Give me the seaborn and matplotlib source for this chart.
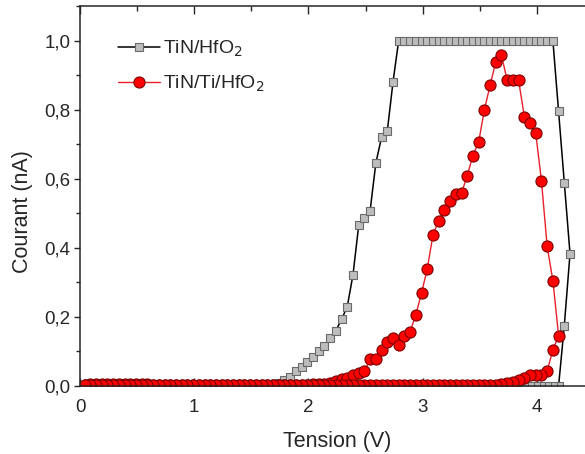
import matplotlib
matplotlib.use("Agg")
import matplotlib.pyplot as plt
import matplotlib.ticker as mticker
import numpy as np
import seaborn as sns

# sweep grid (V): first point 0.04 V, step 0.05 V
V_START, V_STEP = 0.04, 0.05

# TiN/HfO2 current (nA), up-sweep 0.04 -> 4.29 V
tin_up = [
    0.002, 0.002, 0.002, 0.002, 0.002, 0.002, 0.002, 0.002, 0.002, 0.002,
    0.002, 0.002, 0.002, 0.002, 0.002, 0.002, 0.002, 0.002, 0.002, 0.002,
    0.002, 0.002, 0.002, 0.002, 0.002, 0.002, 0.002, 0.002, 0.002, 0.002,
    0.002, 0.002, 0.003, 0.006, 0.010, 0.017, 0.027, 0.043, 0.056, 0.070,
    0.085, 0.100, 0.117, 0.140, 0.160, 0.193, 0.230, 0.322, 0.465, 0.485,
    0.508, 0.645, 0.720, 0.737, 0.879, 1.000, 1.000, 1.000, 1.000, 1.000,
    1.000, 1.000, 1.000, 1.000, 1.000, 1.000, 1.000, 1.000, 1.000, 1.000,
    1.000, 1.000, 1.000, 1.000, 1.000, 1.000, 1.000, 1.000, 1.000, 1.000,
    1.000, 1.000, 1.000, 0.795, 0.589, 0.383,
]
# TiN/HfO2 current (nA), down-sweep 4.24 -> 0.04 V
tin_down = [
    0.175, 0.000, 0.000, 0.000, 0.000, 0.000, 0.000, 0.000, 0.000, 0.000,
    0.000, 0.000, 0.000, 0.000, 0.000, 0.000, 0.000, 0.000, 0.000, 0.000,
    0.000, 0.000, 0.000, 0.000, 0.000, 0.000, 0.000, 0.000, 0.000, 0.000,
    0.000, 0.000, 0.000, 0.000, 0.000, 0.000, 0.000, 0.000, 0.000, 0.000,
    0.000, 0.000, 0.000, 0.000, 0.000, 0.000, 0.000, 0.000, 0.000, 0.000,
    0.000, 0.000, 0.000, 0.000, 0.000, 0.000, 0.000, 0.000, 0.000, 0.000,
    0.000, 0.000, 0.000, 0.000, 0.000, 0.000, 0.000, 0.000, 0.000, 0.000,
    0.000, 0.000, 0.000, 0.000, 0.000, 0.000, 0.000, 0.000, 0.000, 0.000,
    0.000, 0.000, 0.000, 0.000, 0.000,
]

# TiN/Ti/HfO2 current (nA), up-sweep 0.04 -> 4.19 V
ti_up = [
    0.004, 0.005, 0.006, 0.006, 0.006, 0.006, 0.006, 0.006, 0.006, 0.006,
    0.005, 0.005, 0.004, 0.004, 0.004, 0.004, 0.004, 0.004, 0.004, 0.004,
    0.004, 0.004, 0.004, 0.004, 0.004, 0.004, 0.004, 0.004, 0.004, 0.004,
    0.004, 0.004, 0.004, 0.004, 0.004, 0.004, 0.004, 0.004, 0.004, 0.004,
    0.005, 0.006, 0.007, 0.010, 0.015, 0.020, 0.024, 0.031, 0.037, 0.042,
    0.078, 0.078, 0.104, 0.126, 0.139, 0.118, 0.145, 0.157, 0.206, 0.269,
    0.339, 0.437, 0.479, 0.510, 0.536, 0.555, 0.558, 0.609, 0.667, 0.706,
    0.799, 0.870, 0.938, 0.957, 0.885, 0.885, 0.885, 0.780, 0.760, 0.732,
    0.594, 0.404, 0.305, 0.146,
]
# TiN/Ti/HfO2 current (nA), down-sweep 4.14 -> 0.04 V
ti_down = [
    0.104, 0.044, 0.032, 0.031, 0.032, 0.023, 0.017, 0.012, 0.008, 0.005,
    0.003, 0.003, 0.003, 0.003, 0.003, 0.003, 0.003, 0.003, 0.003, 0.003,
    0.003, 0.003, 0.003, 0.003, 0.003, 0.003, 0.003, 0.003, 0.003, 0.003,
    0.003, 0.003, 0.003, 0.003, 0.003, 0.003, 0.003, 0.003, 0.003, 0.003,
    0.003, 0.003, 0.003, 0.003, 0.003, 0.003, 0.003, 0.003, 0.003, 0.003,
    0.003, 0.003, 0.003, 0.003, 0.003, 0.003, 0.003, 0.003, 0.003, 0.003,
    0.003, 0.003, 0.003, 0.003, 0.003, 0.003, 0.003, 0.003, 0.003, 0.003,
    0.003, 0.003, 0.003, 0.003, 0.003, 0.003, 0.003, 0.003, 0.003, 0.003,
    0.003, 0.003, 0.003,
]

labels = ["TiN/HfO$_2$", "TiN/Ti/HfO$_2$"]


def sweep(up, down):
    n = len(up)
    v_up = np.round(V_START + V_STEP * np.arange(n), 2)
    v_down = v_up[::-1][1:1 + len(down)]
    return np.concatenate([v_up, v_down]), np.array(up + down)


sns.set_style("ticks")
plt.rcParams["font.family"] = ["Liberation Sans", "DejaVu Sans"]

fig = plt.figure(figsize=(5.85, 4.54), dpi=100)
# axes runs past the right edge of the picture (cropped like the original)
ax = fig.add_axes([80 / 585, 68 / 454, 514 / 585, 380 / 454])

v1, i1 = sweep(tin_up, tin_down)
v2, i2 = sweep(ti_up, ti_down)

sns.lineplot(x=v1, y=i1, sort=False, estimator=None, ax=ax,
             color="black", linewidth=1.1, marker="s", markersize=6,
             markerfacecolor="#BDBDBD", markeredgecolor="#6A6A6A",
             markeredgewidth=0.8, label=labels[0])
sns.lineplot(x=v2, y=i2, sort=False, estimator=None, ax=ax,
             color="#E8202A", linewidth=1.0, marker="o", markersize=8,
             markerfacecolor="#FF0000", markeredgecolor="#7A0000",
             markeredgewidth=0.8, label=labels[1])

ax.set_xlim(0, 4.5)
ax.set_ylim(0, 1.1)
ax.xaxis.set_major_locator(mticker.MultipleLocator(1))
ax.xaxis.set_minor_locator(mticker.MultipleLocator(0.5))
ax.yaxis.set_major_locator(mticker.MultipleLocator(0.2))
ax.yaxis.set_minor_locator(mticker.MultipleLocator(0.1))
ax.xaxis.set_major_formatter(mticker.FuncFormatter(lambda v, p: f"{v:.0f}"))
ax.yaxis.set_major_formatter(
    mticker.FuncFormatter(lambda v, p: f"{v:.1f}".replace(".", ",")))

ax.tick_params(axis="x", which="both", direction="in", top=True,
               labelsize=13.5, pad=9)
ax.tick_params(axis="x", which="major", length=6, width=1)
ax.tick_params(axis="x", which="minor", length=3.5, width=1)
ax.tick_params(axis="y", which="both", direction="out", right=False,
               labelsize=13.5, pad=3)
ax.tick_params(axis="y", which="major", length=4, width=1)
ax.tick_params(axis="y", which="minor", length=3, width=1)
for s in ["left", "bottom", "top"]:
    ax.spines[s].set_linewidth(1.1)
ax.spines["right"].set_visible(False)

ax.set_xlabel("Tension (V)", fontsize=15.5, labelpad=11)
ax.set_ylabel("Courant (nA)", fontsize=15.5)
ax.yaxis.set_label_coords(-0.091, 0.46)

ax.legend(loc="upper left", bbox_to_anchor=(0.059, 0.935), frameon=False,
          fontsize=14, handlelength=2.15, handletextpad=0.15,
          labelspacing=0.75, borderaxespad=0)

fig.savefig("out.png", dpi=100)
